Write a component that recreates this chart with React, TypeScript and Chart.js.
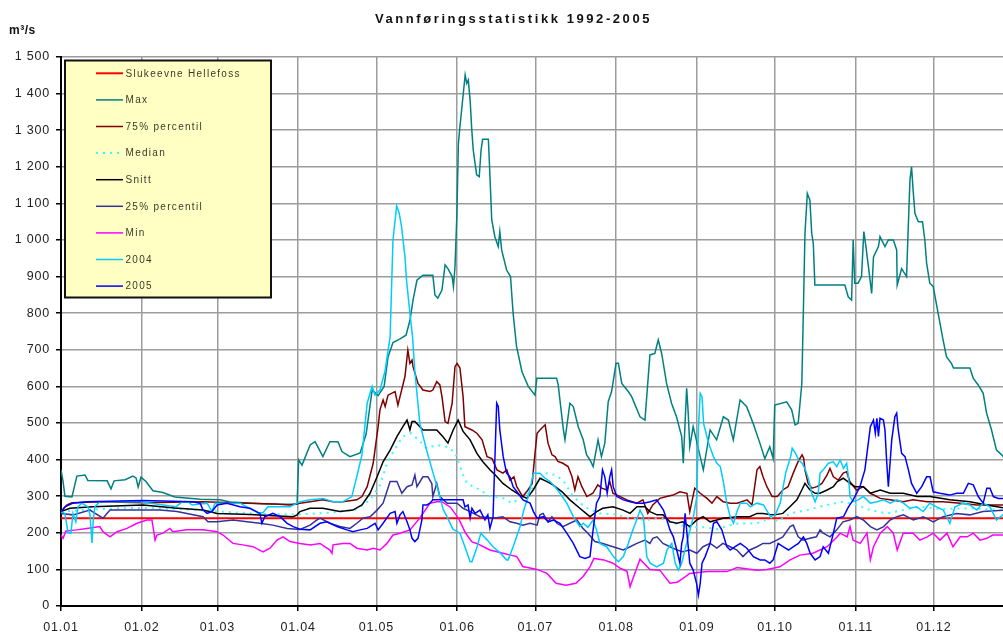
import React, { useEffect, useRef } from "react";
import { Chart, registerables } from "chart.js";

Chart.register(...registerables);

// ---- axis data (leap-year day index, 29 Feb included) ----
const monthStarts = [0, 31, 60, 91, 121, 152, 182, 213, 244, 274, 305, 335];
const monthLabels = ["01.01", "01.02", "01.03", "01.04", "01.05", "01.06", "01.07", "01.08", "01.09", "01.10", "01.11", "01.12"];
const yMin = 0;
const yMax = 1500;
const yStep = 100;
const xMin = 0;
const xMax = 361.5;

// ---- series (day of year, m3/s) ----
const slukeevne: [number, number][] = [[0, 240], [366, 240]];

const maxFlow: [number, number][] = [
  [0, 372], [0.8, 340], [1.5, 300], [4.2, 298], [6.1, 355], [9.2, 358], [10.3, 343], [17.7, 342], [19.2, 320], [20.4, 342],
  [24.6, 345], [27.6, 355], [28.8, 350], [29.6, 325], [30.7, 352], [32.6, 340], [35.3, 315], [39.1, 310], [43.7, 298], [53.4, 292],
  [61, 290], [64.9, 284], [79, 279], [90.6, 278], [91.2, 399], [92.5, 385], [95.6, 440], [97.5, 449], [100.5, 408], [103.2, 449],
  [106.3, 449], [107.8, 422], [110.9, 408], [114.8, 418], [117.1, 470], [119.4, 590], [121.7, 575], [124, 600], [125.5, 680], [127.4, 720],
  [130.1, 730], [132.4, 740], [133.9, 780], [135.1, 836], [136.6, 890], [138.9, 904], [142.7, 904], [143.5, 850], [144.6, 841], [146.2, 863],
  [147.4, 932], [148.5, 922], [150.1, 900], [150.6, 873], [151.2, 927], [151.9, 1064], [152.5, 1264], [153.1, 1310], [155.1, 1451], [155.7, 1428],
  [156.3, 1437], [157, 1383], [157.6, 1305], [158.2, 1246], [159.5, 1178], [160.5, 1173], [161.2, 1246], [161.8, 1275], [164, 1275], [164.3, 1228],
  [165.3, 1055], [166.5, 1009], [167.8, 982], [168.4, 1023], [169.1, 973], [171, 918], [172.5, 900], [173.5, 800], [174.8, 710], [176.9, 640],
  [179.3, 600], [181.9, 576], [182.6, 622], [190.2, 622], [190.8, 604], [192.8, 481], [193.4, 454], [195.3, 554], [196.6, 545], [198.5, 490],
  [200.4, 454], [201.7, 413], [203, 399], [204.2, 381], [206.1, 454], [207.4, 408], [208.7, 445], [210, 558], [211.3, 586], [213, 663],
  [213.9, 663], [215.2, 608], [217.7, 586], [219, 572], [222.2, 517], [224.1, 508], [226, 686], [227.9, 690], [229.2, 727], [230.5, 690],
  [232.4, 608], [234.3, 554], [236.2, 517], [238.2, 463], [238.8, 390], [240.1, 595], [240.7, 527], [241.3, 435], [242.6, 490], [245.3, 408],
  [246.5, 372], [249.1, 481], [251.6, 454], [254.2, 517], [256.1, 508], [258, 454], [260.6, 563], [263.1, 545], [265.6, 499], [268.2, 445],
  [270.1, 403], [272, 435], [273.3, 403], [273.9, 549], [278.5, 558], [280.4, 536], [281.7, 495], [282.9, 499], [284.3, 608], [284.9, 809],
  [285.5, 1018], [286.4, 1127], [287.4, 1109], [288.1, 1018], [288.7, 991], [289.3, 877], [300.8, 877], [302.1, 845], [303.4, 836], [304, 1000],
  [304.6, 882], [305.9, 882], [307.2, 900], [308.1, 1023], [308.9, 982], [309.7, 936], [311.1, 854], [311.8, 954], [313.7, 982], [314.3, 1009],
  [316.2, 982], [317.5, 1000], [319.4, 1000], [320.7, 973], [320.9, 877], [322.6, 922], [324.5, 900], [325.1, 1027], [325.8, 1164], [326.4, 1200],
  [327, 1137], [327.7, 1073], [329, 1050], [330.6, 1050], [331.5, 1000], [332.2, 936], [333.4, 882], [334.7, 873], [336.6, 800], [338.5, 727],
  [339.8, 681], [341.7, 663], [342.5, 650], [348.8, 650], [350.1, 622], [352, 604], [353.9, 581], [355.2, 527], [357.1, 481], [359, 426],
  [361, 413], [362.6, 400],
];

const p75: [number, number][] = [
  [0, 258], [2.3, 276], [4.2, 282], [14.9, 285], [31.5, 282], [54.5, 285], [71.4, 281], [82.2, 279], [87.9, 276], [91.7, 281],
  [95.6, 285], [100.5, 290], [104.4, 285], [108.2, 285], [113.5, 290], [115.5, 299], [117.5, 326], [119.8, 390], [121.7, 490], [122.4, 536],
  [123.6, 563], [124.4, 545], [125.5, 576], [128.2, 586], [129.3, 549], [130.1, 572], [132, 627], [133.1, 699], [133.9, 663], [134.7, 672],
  [135.1, 654], [137, 608], [138.9, 590], [141.6, 586], [142.7, 590], [144.2, 613], [145.4, 604], [146.2, 572], [147.4, 504], [148.5, 499],
  [150.1, 554], [151.2, 654], [152, 663], [153.1, 650], [154.3, 572], [155, 490], [157.7, 481], [159.6, 472], [161.6, 454], [163.5, 408],
  [165.4, 403], [167.3, 372], [169.6, 363], [171.1, 372], [172.3, 344], [173.8, 353], [174.9, 326], [177.2, 299], [179.2, 317], [180.8, 335],
  [181.9, 417], [182.7, 472], [183.8, 481], [185.8, 495], [186.9, 445], [188.4, 413], [189.6, 408], [190.7, 395], [192.6, 390], [194.6, 381],
  [196.1, 353], [197.2, 317], [198.4, 353], [199.9, 326], [201.8, 299], [204.1, 308], [206, 331], [207.5, 322], [209.5, 317], [210.6, 340],
  [211.8, 308], [214.6, 299], [217.2, 290], [221, 281], [223.3, 290], [225.2, 253], [227.1, 276], [229.8, 294], [232.4, 299], [234.9, 303],
  [237.5, 312], [240.2, 308], [241.3, 258], [243.2, 322], [245.3, 308], [247.9, 294], [249.8, 281], [251.7, 299], [254.1, 285], [256.8, 281],
  [259.5, 281], [263.3, 290], [265.2, 276], [267.1, 372], [268.2, 381], [269.4, 353], [270.9, 326], [272.9, 299], [274.9, 299], [277, 317],
  [279, 326], [281, 363], [282.9, 395], [284.4, 413], [285, 404], [285.5, 372], [286.7, 335], [288.2, 322], [290.1, 326], [292, 335],
  [294, 358], [295.1, 376], [296.4, 353], [298.3, 344], [300.2, 363], [301.5, 367], [302.7, 340], [305.3, 317], [307.9, 326], [310.6, 308],
  [314.4, 294], [318.2, 290], [323.2, 285], [327, 290], [332.4, 285], [338.5, 285], [345.1, 281], [351.5, 276], [356.5, 276], [362.6, 276],
];

const median: [number, number][] = [
  [0, 258], [14.9, 265], [30.3, 268], [45.6, 265], [61, 258], [76.3, 252], [91, 250], [103.2, 255], [112.8, 262], [118.6, 290],
  [122.4, 330], [125.1, 390], [128.2, 430], [131.2, 463], [134.3, 472], [137, 455], [140.4, 431], [144.2, 440], [148.2, 435], [151.2, 420],
  [154.3, 358], [155.8, 335], [160, 320], [164.6, 300], [169.6, 295], [173, 281], [178, 300], [183.1, 340], [186.5, 363], [189.6, 358],
  [192.6, 344], [196.5, 300], [201.1, 270], [206.8, 253], [212.6, 250], [218.4, 240], [224.1, 235], [229.8, 240], [235.6, 225], [241.3, 215],
  [247.2, 215], [251.8, 210], [258.6, 225], [267.1, 226], [273.2, 244], [275.1, 230], [279.8, 253], [286.3, 262], [293.2, 275], [300.1, 285],
  [305.4, 276], [310.5, 262], [317, 253], [323.1, 262], [329.6, 271], [337.3, 265], [348.8, 267], [362.6, 262],
];

const snitt: [number, number][] = [
  [0, 258], [3.4, 267], [12.2, 271], [31.5, 276], [43.7, 268], [54.5, 262], [59.9, 253], [72.5, 250], [89.1, 244], [90.6, 249],
  [91.7, 258], [95.6, 267], [100.5, 267], [107, 258], [112, 262], [115.5, 276], [118.6, 308], [121.3, 353], [123.6, 394], [126.3, 426],
  [128.9, 463], [131.2, 490], [132.8, 508], [133.9, 481], [134.7, 504], [135.8, 504], [137, 495], [138.9, 481], [144.2, 481], [146.5, 463],
  [148.5, 445], [150.5, 481], [152.4, 508], [154.3, 477], [157, 454], [159.6, 417], [161.9, 394], [164.6, 372], [167.3, 353], [169.6, 335],
  [173, 317], [176.1, 303], [178.8, 294], [181.2, 317], [183.8, 349], [186.5, 340], [188.8, 331], [192.3, 312], [195.3, 290], [199.1, 267],
  [203, 244], [205.6, 258], [207.9, 267], [211.8, 271], [215.7, 262], [218.4, 253], [221, 271], [224.1, 271], [226, 258], [228.7, 249],
  [231, 249], [233.7, 230], [236.4, 226], [238.6, 230], [241.3, 217], [244, 235], [246.4, 244], [249.1, 230], [251.7, 235], [254, 240],
  [259.4, 244], [264.3, 244], [267.1, 253], [269.4, 253], [272, 250], [273.9, 249], [277, 253], [279.7, 271], [282.4, 290], [284.3, 317],
  [285.5, 335], [287.4, 317], [289.4, 308], [291.3, 308], [294, 317], [296.4, 326], [297.9, 340], [300.2, 349], [302.8, 335], [304.7, 326],
  [307.9, 326], [310.6, 308], [314.4, 317], [318.2, 308], [323.2, 308], [328.5, 299], [333.5, 299], [341.1, 290], [348.8, 285], [355.3, 276],
  [362.6, 267],
];

const p25: [number, number][] = [
  [0, 253], [4.6, 249], [11.1, 262], [16.1, 240], [18.8, 262], [38, 262], [44.5, 258], [54.5, 244], [56.4, 230], [59.9, 230],
  [66, 235], [71.4, 230], [76.3, 226], [81.3, 221], [86.8, 212], [91.7, 209], [95.6, 221], [98.2, 235], [99.4, 240], [103.2, 226],
  [107, 217], [110.9, 212], [113.5, 226], [115.9, 240], [118.6, 244], [121.3, 262], [123.6, 281], [126.3, 340], [128.9, 340], [130.8, 308],
  [132.8, 326], [134.7, 331], [135.8, 358], [136.6, 326], [138.9, 353], [140.8, 353], [142.3, 335], [142.7, 299], [144.2, 335], [145.4, 299],
  [148.2, 281], [152, 281], [154.3, 267], [157, 258], [160.8, 244], [165.8, 240], [169.6, 244], [172.3, 230], [174.9, 226], [177.2, 221],
  [180, 226], [182.7, 221], [183.8, 249], [185, 253], [186.9, 230], [188.4, 244], [190.3, 226], [192.6, 217], [195.3, 226], [198, 235],
  [200.3, 212], [202.2, 199], [204.9, 176], [207.9, 171], [211.8, 162], [215.7, 153], [218.4, 162], [221, 171], [224.1, 180], [226, 171],
  [227.1, 185], [228.7, 189], [231, 171], [233.7, 162], [236.4, 153], [238.6, 148], [241.3, 153], [244, 144], [246.4, 162], [249.1, 171],
  [251.7, 158], [254, 171], [256.8, 162], [259.4, 153], [261.7, 135], [264.3, 153], [267.1, 162], [269.4, 171], [272, 171], [274.7, 180],
  [277, 189], [279.8, 217], [281, 221], [282.9, 189], [284.7, 180], [287.4, 185], [289.9, 189], [291.3, 208], [292.5, 199], [295.1, 189],
  [297.7, 208], [300.1, 230], [302.7, 235], [305.4, 244], [307.9, 235], [310.6, 217], [313.1, 208], [315.7, 217], [318.2, 235], [320.8, 244],
  [323.3, 249], [327.1, 235], [330.9, 244], [334.7, 230], [338.5, 244], [343.7, 253], [348.8, 249], [353.8, 258], [362.6, 262],
];

const minFlow: [number, number][] = [
  [0, 194], [0.8, 185], [1.9, 205], [6.1, 208], [9.9, 212], [14.9, 217], [16.1, 203], [18.8, 189], [21.5, 203], [25.3, 212],
  [29.2, 226], [33, 235], [34.9, 235], [36.1, 180], [36.8, 194], [39.1, 199], [41.8, 212], [42.9, 203], [48.3, 208], [54.5, 208],
  [59.9, 203], [62.2, 194], [66, 171], [69.8, 167], [73.7, 162], [77.5, 148], [80.2, 158], [82.9, 180], [85.2, 189], [87.9, 176],
  [91.7, 171], [95.6, 167], [99.4, 171], [103.2, 153], [104, 144], [104.4, 167], [108.2, 171], [110.9, 171], [113.5, 158], [117.5, 153],
  [119.8, 158], [122.4, 153], [125.1, 171], [127.4, 194], [130.1, 199], [133.9, 208], [137.7, 240], [141.6, 281], [144.2, 285], [146.2, 285],
  [149.4, 270], [152.5, 240], [155.2, 200], [157.7, 175], [159.6, 171], [164.6, 153], [169.6, 144], [174.9, 135], [177.2, 108], [182.7, 100],
  [186.5, 89], [190, 62], [193.8, 57], [197.6, 62], [200.3, 80], [203, 107], [204.5, 130], [208.3, 126], [211.8, 117], [214.6, 103],
  [217.2, 95], [218.4, 53], [219.5, 75], [222.2, 128], [226, 100], [229.8, 98], [233.7, 62], [236.4, 65], [238.6, 75], [241.3, 89],
  [247.9, 94], [255.6, 94], [259.4, 105], [267.1, 98], [270.9, 100], [275.9, 107], [279.8, 126], [283.6, 139], [288.6, 144], [294, 162],
  [297.9, 189], [299, 199], [301.7, 189], [302.8, 217], [304, 180], [306.7, 171], [309.3, 199], [310.6, 126], [311.8, 162], [314.4, 199],
  [317.1, 217], [319.4, 199], [320.9, 153], [323.2, 199], [327, 199], [329.6, 180], [332.4, 189], [334.7, 199], [337.3, 180], [340, 199],
  [342.3, 162], [345.1, 189], [347.8, 189], [350.1, 199], [352.7, 180], [355.3, 185], [357.6, 194], [362.6, 194],
];

const y2004: [number, number][] = [
  [0, 258], [1.5, 253], [2.7, 200], [3.8, 199], [4.6, 253], [5.7, 230], [6.5, 271], [8, 281], [10.3, 271], [11.1, 250],
  [11.9, 172], [12.4, 235], [13, 271], [14.9, 285], [30.3, 285], [44.1, 271], [46.4, 284], [48.7, 285], [50.3, 276], [56.1, 281],
  [57.9, 258], [59.1, 281], [68.7, 281], [75.6, 255], [77.5, 255], [79.4, 271], [87.9, 271], [91.7, 285], [95.6, 290], [100.5, 294],
  [104.4, 285], [108.2, 285], [111.6, 299], [113.5, 353], [115.5, 413], [117.5, 554], [119.4, 600], [120.5, 576], [122.4, 590], [124.3, 640],
  [126.3, 736], [127.4, 1000], [128.8, 1093], [129.8, 1073], [130.7, 1036], [132, 954], [132.6, 890], [133.9, 800], [134.9, 736], [135.8, 640],
  [137.7, 499], [140.3, 426], [142.8, 363], [145.4, 299], [146.6, 265], [148.1, 244], [150.4, 210], [153.1, 199], [155, 162], [157, 121],
  [157.7, 121], [159.7, 162], [161.1, 199], [163.6, 180], [165.8, 162], [168.4, 146], [171, 126], [171.6, 126], [173.5, 162], [176.1, 215],
  [177.6, 262], [179.3, 299], [181.3, 363], [183.8, 363], [185.8, 349], [187.7, 340], [189.6, 326], [191.5, 308], [194.1, 281], [196.6, 244],
  [199.1, 217], [200.4, 226], [202.2, 215], [204.2, 235], [205.5, 208], [206.8, 171], [209.4, 162], [212, 135], [213.9, 121], [215.8, 135],
  [217.7, 171], [219, 199], [220.9, 235], [222.2, 262], [223.5, 244], [224.8, 135], [226.1, 117], [228.6, 107], [231.2, 117], [232.5, 153],
  [234.4, 171], [235.7, 117], [236.9, 98], [238.2, 117], [240.7, 189], [242.7, 244], [244, 299], [244.6, 481], [245.3, 581], [246, 572],
  [246.6, 499], [248.5, 445], [250.4, 408], [251.7, 390], [253, 381], [254.3, 335], [255.5, 281], [256.8, 244], [258.1, 226], [259.4, 258],
  [260.7, 281], [263.2, 281], [264.5, 271], [267, 281], [269.6, 276], [272.2, 244], [274.1, 249], [276, 281], [278.1, 363], [280, 408],
  [280.6, 431], [281.9, 417], [283.1, 399], [284.4, 390], [285.7, 372], [287, 344], [288.1, 308], [289.4, 285], [290.6, 308], [291.3, 363],
  [292.5, 372], [294.5, 390], [296.4, 394], [297.7, 381], [299, 399], [300.3, 376], [301.5, 390], [302.2, 353], [302.8, 299], [304, 285],
  [305.9, 290], [307.9, 299], [310.6, 281], [313.2, 285], [315.7, 290], [318.2, 281], [320.8, 290], [323.3, 281], [325.8, 267], [328.4, 271],
  [330.9, 258], [333.4, 281], [336, 271], [338.6, 262], [341.1, 226], [343.1, 271], [346.3, 281], [348.8, 276], [351.4, 262], [353.9, 281],
  [356.5, 271], [359, 235], [361.4, 249], [362.6, 255],
];

const y2005: [number, number][] = [
  [0, 258], [1.5, 271], [4.6, 281], [9.9, 285], [31.5, 288], [50.7, 285], [53.4, 281], [54.5, 262], [56.1, 253], [57.9, 258],
  [59.9, 276], [63.7, 281], [68.7, 271], [72.5, 267], [76.3, 253], [77.1, 226], [78.2, 244], [81.3, 253], [84.1, 244], [86.8, 226],
  [89.1, 217], [91.7, 210], [95.6, 208], [99.4, 226], [102.1, 230], [105.9, 217], [109.7, 208], [112, 203], [114.8, 208], [117.5, 212],
  [120.5, 226], [121.7, 208], [123.6, 226], [126.3, 253], [128.2, 258], [128.9, 226], [130.1, 249], [131.2, 258], [132.8, 230], [133.9, 208],
  [134.7, 185], [135.8, 176], [137, 185], [138.5, 235], [138.9, 276], [140.4, 276], [141.6, 281], [142.7, 290], [154.3, 290], [155, 271],
  [156.2, 276], [157, 240], [157.7, 267], [158.9, 253], [160.8, 262], [162.7, 235], [163.8, 249], [164.6, 212], [165.8, 244], [167.2, 554],
  [167.8, 545], [168.4, 481], [169.7, 408], [171, 363], [172.3, 353], [173.5, 326], [175.4, 308], [177.3, 290], [180, 281], [181.3, 258],
  [182.7, 240], [185.1, 244], [187, 230], [189, 235], [191.5, 226], [194.1, 199], [196.6, 171], [199.1, 135], [201.1, 130], [203, 135],
  [204.2, 208], [205.5, 281], [206.8, 299], [207.8, 372], [208.7, 353], [209.6, 308], [210.6, 353], [211.3, 372], [211.9, 326], [213.3, 299],
  [215.8, 290], [218.4, 285], [220.9, 281], [223.5, 281], [226.1, 285], [228.6, 290], [231.2, 262], [232.5, 235], [233.7, 208], [235, 189],
  [236.3, 153], [237.5, 117], [238.2, 171], [238.8, 189], [239.5, 253], [240.2, 200], [241.3, 117], [242.6, 98], [243.9, 62], [244.6, 30],
  [245.3, 62], [246, 117], [247.2, 135], [249.1, 171], [250.4, 226], [251.7, 230], [253.6, 208], [255.5, 162], [256.8, 153], [258.7, 162],
  [260.7, 171], [263.2, 158], [265.7, 135], [268.3, 126], [270.1, 126], [272, 117], [273.3, 126], [275.2, 171], [277.1, 162], [279.2, 153],
  [281.1, 162], [283, 171], [284.9, 189], [286.2, 171], [287.5, 144], [289.4, 126], [291.3, 135], [292.5, 162], [294.5, 144], [296.4, 199],
  [297.7, 240], [300.3, 244], [302.2, 271], [304, 290], [306.6, 326], [308.5, 372], [310.6, 490], [311.8, 508], [312.5, 472], [313.1, 513],
  [313.7, 463], [314.3, 513], [315.6, 508], [316.2, 481], [316.9, 390], [317.5, 326], [318.8, 454], [320, 517], [320.7, 527], [321.3, 481],
  [322.6, 417], [323.9, 408], [325.2, 372], [326.4, 335], [328.4, 308], [330.3, 326], [332.2, 353], [333.5, 353], [334.7, 312], [337.3, 308],
  [341.1, 303], [343.7, 308], [346.3, 308], [348.2, 335], [350.1, 331], [352, 299], [353.9, 281], [355.3, 322], [356.5, 322], [357.8, 299],
  [359.7, 294], [361.5, 294], [362.6, 294],
];

const seriesNames = ["Slukeevne Hellefoss", "Max", "75% percentil", "Median", "Snitt", "25% percentil", "Min", "2004", "2005"];
const seriesData = [slukeevne, maxFlow, p75, median, snitt, p25, minFlow, y2004, y2005];
const seriesColors = ["#ff0000", "#008080", "#800000", "#33ffff", "#000000", "#333399", "#ff00ff", "#00ccff", "#0000ff"];
const seriesWidths = [2, 1.5, 1.5, 2, 1.5, 1.5, 1.5, 1.5, 1.5];
const seriesDash: number[][] = [[], [], [], [2, 5], [], [], [], [], []];

const FONT = '"Liberation Sans", Arial, sans-serif';

const spacingPlugin = {
  id: "spacing",
  beforeDraw(chart: any) {
    (chart.ctx as any).letterSpacing = "0.8px";
  },
};

const overlayPlugin = {
  id: "overlay",
  afterDraw(chart: any) {
    const ctx: CanvasRenderingContext2D = chart.ctx;
    ctx.save();
    // title
    const title = "Vannføringsstatistikk 1992-2005";
    ctx.font = `bold 13px ${FONT}`;
    (ctx as any).letterSpacing = "0px";
    const w0 = ctx.measureText(title).width;
    const spacing = Math.max(0, (277 - w0) / title.length);
    (ctx as any).letterSpacing = `${spacing}px`;
    ctx.fillStyle = "#111";
    ctx.textAlign = "left";
    ctx.textBaseline = "middle";
    ctx.fillText(title, 375, 19);
    // unit
    (ctx as any).letterSpacing = "0.5px";
    ctx.font = `bold 12px ${FONT}`;
    ctx.fillText("m³/s", 9, 31);

    // legend box
    (ctx as any).letterSpacing = "0px";
    ctx.fillStyle = "#ffffc4";
    ctx.fillRect(65, 60.5, 206, 237);
    ctx.strokeStyle = "#111";
    ctx.lineWidth = 2;
    ctx.strokeRect(65, 60.5, 206, 237);
    ctx.font = `10px ${FONT}`;
    (ctx as any).letterSpacing = "1.3px";
    seriesNames.forEach((name, i) => {
      const y = 73.3 + i * 26.6;
      ctx.beginPath();
      ctx.strokeStyle = seriesColors[i];
      ctx.lineWidth = seriesWidths[i];
      ctx.setLineDash(seriesDash[i]);
      ctx.moveTo(96, y);
      ctx.lineTo(123, y);
      ctx.stroke();
      ctx.setLineDash([]);
      ctx.fillStyle = "#3a3a2a";
      ctx.textBaseline = "middle";
      ctx.fillText(name, 125.5, y + 0.5);
    });
    ctx.restore();
    (ctx as any).letterSpacing = "0px";
  },
};

function fmtThousands(v: number): string {
  if (v >= 1000) {
    const th = Math.floor(v / 1000);
    const rest = String(v % 1000).padStart(3, "0");
    return `${th} ${rest}`;
  }
  return String(v);
}

export default function App() {
  const ref = useRef<HTMLCanvasElement>(null);
  useEffect(() => {
    if (!ref.current) return;
    const datasets = seriesData.map((arr, i) => ({
      label: seriesNames[i],
      data: arr.map(([x, y]) => ({ x, y })),
      borderColor: seriesColors[i],
      backgroundColor: seriesColors[i],
      borderWidth: seriesWidths[i],
      borderDash: seriesDash[i],
      pointRadius: 0,
      tension: 0,
      fill: false,
      order: 20 - i,
    }));
    const chart = new Chart(ref.current, {
      type: "line",
      data: { datasets },
      plugins: [spacingPlugin, overlayPlugin],
      options: {
        animation: false,
        responsive: false,
        devicePixelRatio: 1,
        layout: { padding: { top: 57, left: 0, right: 0, bottom: 0 } },
        plugins: { legend: { display: false }, tooltip: { enabled: false }, title: { display: false } },
        scales: {
          x: {
            type: "linear",
            min: xMin,
            max: xMax,
            afterBuildTicks: (scale: any) => {
              scale.ticks = monthStarts.map((v) => ({ value: v }));
            },
            afterFit: (scale: any) => {
              scale.height = 34;
            },
            ticks: {
              autoSkip: false,
              maxRotation: 0,
              padding: 9,
              color: "#222",
              font: { family: FONT, size: 12.5 },
              callback: (_v: any, i: number) => monthLabels[i],
            },
            grid: { color: "#9c9c9c", lineWidth: 1.5, tickColor: "#000", tickLength: 5, tickWidth: 1.5 },
            border: { display: true, color: "#000", width: 2 },
          },
          y: {
            min: yMin,
            max: yMax,
            afterFit: (scale: any) => {
              scale.width = 61;
            },
            ticks: {
              stepSize: yStep,
              padding: 6,
              color: "#222",
              font: { family: FONT, size: 12.5 },
              callback: (v: any) => fmtThousands(Number(v)),
            },
            grid: { color: "#9c9c9c", lineWidth: 1.5, tickColor: "#000", tickLength: 5, tickWidth: 1.5 },
            border: { display: true, color: "#000", width: 2 },
          },
        },
      },
    } as any);
    return () => chart.destroy();
  }, []);
  return (
    <div style={{ position: "fixed", left: 0, top: 0, width: 1003, height: 640, background: "#fff", overflow: "hidden" }}>
      <canvas ref={ref} width={1003} height={640} style={{ display: "block", width: 1003, height: 640 }} />
    </div>
  );
}
